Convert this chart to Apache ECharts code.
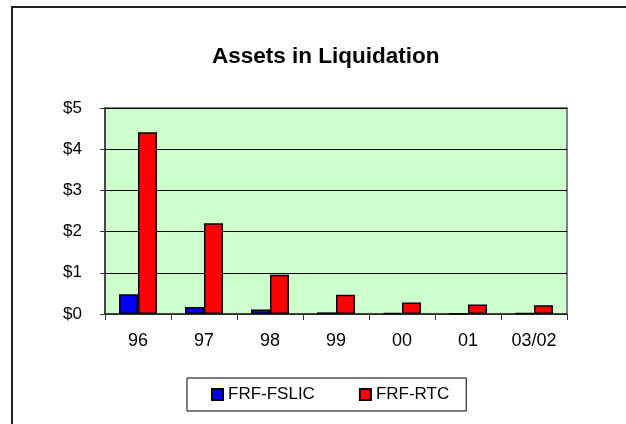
<!DOCTYPE html>
<html lang="en">
<head>
    <meta charset="UTF-8">
    <title>Assets in Liquidation</title>
    <style>
        html, body { margin: 0; padding: 0; background: #fff; }
    </style>
</head>
<body>
    <div id="main" style="width: 626px;height:424px;"></div>
    <script src="https://cdn.jsdelivr.net/npm/echarts@6/dist/echarts.min.js"></script>
    <script>

// 年份 (x轴)
var years = ['96', '97', '98', '99', '00', '01', '03/02'];
// 单位：十亿美元
var fslic = [0.48, 0.17, 0.11, 0.04, 0.03, 0.01, 0.02];
var rtc = [4.41, 2.20, 0.95, 0.47, 0.28, 0.23, 0.21];
var yTicks = [0, 1, 2, 3, 4, 5];

var font = "'Liberation Sans', Arial, sans-serif";

var option = {
    animation: false,
    backgroundColor: '#fff',
    title: {
        text: 'Assets in Liquidation',
        left: 212,
        top: 45,
        padding: 0,
        textStyle: {
            fontFamily: font,
            fontSize: 22.5,
            fontWeight: 'bold',
            color: '#000'
        }
    },
    // 外边框
    graphic: [{
        type: 'rect',
        shape: {x: 12, y: 7, width: 700, height: 500},
        style: {fill: null, stroke: '#222', lineWidth: 2},
        silent: true
    }],
    legend: {
        data: ['FRF-FSLIC', 'FRF-RTC'],
        left: 187,
        top: 378,
        padding: [8, 17, 8, 24],
        itemWidth: 11,
        itemHeight: 11,
        itemGap: 44,
        borderColor: '#000',
        borderWidth: 1,
        icon: 'rect',
        textStyle: {
            fontFamily: font,
            fontSize: 17,
            color: '#000'
        }
    },
    grid: {
        left: 105,
        right: 59,
        top: 108,
        height: 206,
        show: true,
        backgroundColor: '#CCFFCC',
        borderColor: '#808080',
        borderWidth: 2
    },
    xAxis: {
        type: 'category',
        data: years,
        axisLine: {lineStyle: {color: '#333', width: 1.5}},
        axisTick: {show: true, length: 6, alignWithLabel: false, lineStyle: {color: '#333'}},
        axisLabel: {
            margin: 18,
            fontFamily: font,
            fontSize: 18,
            color: '#000'
        }
    },
    yAxis: {
        type: 'value',
        min: yTicks[0],
        max: yTicks[yTicks.length - 1],
        interval: 1,
        axisLine: {show: true, lineStyle: {color: '#333', width: 1.5}},
        axisTick: {show: true, length: 5, lineStyle: {color: '#333'}},
        splitLine: {show: true, lineStyle: {color: '#000', width: 1}},
        axisLabel: {
            margin: 23,
            fontFamily: font,
            fontSize: 17,
            color: '#000',
            formatter: function (v) { return '$' + v; }
        }
    },
    series: [
        {
            name: 'FRF-FSLIC',
            type: 'bar',
            data: fslic,
            barWidth: 19,
            barGap: '0%',
            itemStyle: {color: '#0000FF', borderColor: '#000', borderWidth: 1.5}
        },
        {
            name: 'FRF-RTC',
            type: 'bar',
            data: rtc,
            barWidth: 19,
            barGap: '0%',
            itemStyle: {color: '#FF0000', borderColor: '#000', borderWidth: 1.5}
        }
    ]
};

var myChart = echarts.init(document.getElementById('main'));
myChart.setOption(option);

    </script>
</body>
</html>
